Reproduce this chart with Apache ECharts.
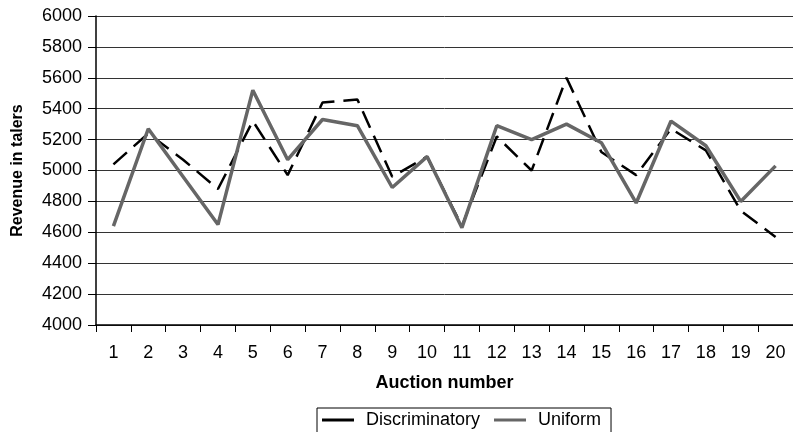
<!DOCTYPE html>
<html>
<head>
<meta charset="utf-8">
<script src="https://cdn.jsdelivr.net/npm/echarts@6/dist/echarts.min.js"></script>
<style>
html,body{margin:0;padding:0;background:#fff;}
#chart{width:793px;height:432px;}
</style>
</head>
<body>
<div id="chart"></div>
<script>
var categories = ['1','2','3','4','5','6','7','8','9','10','11','12','13','14','15','16','17','18','19','20'];
var discriminatory = [5040, 5240, 5070, 4880, 5320, 4970, 5440, 5460, 4960, 5090, 4640, 5220, 5000, 5600, 5120, 4970, 5270, 5130, 4740, 4570];
var uniform = [4640, 5270, 4960, 4650, 5520, 5070, 5330, 5290, 4890, 5090, 4630, 5290, 5200, 5300, 5180, 4790, 5320, 5160, 4800, 5030];
var yTicks = [4000, 6000, 200];

var chart = echarts.init(document.getElementById('chart'), null, {renderer:'canvas'});
var font = 'Liberation Sans, Arial, sans-serif';
chart.setOption({
  animation: false,
  textStyle: {fontFamily: font},
  grid: {left: 96, top: 16, right: 0, bottom: 107, containLabel: false},
  xAxis: {
    type: 'category',
    data: categories,
    boundaryGap: true,
    name: 'Auction number',
    nameLocation: 'middle',
    nameGap: 49,
    nameTextStyle: {fontFamily: font, fontSize: 18, fontWeight: 'bold', color: '#000'},
    axisLine: {lineStyle: {color: '#000', width: 1.5}},
    axisTick: {show: true, alignWithLabel: false, length: 7, lineStyle: {color: '#000'}},
    axisLabel: {fontFamily: font, fontSize: 18, color: '#000', margin: 19},
    splitLine: {show: false}
  },
  yAxis: {
    type: 'value',
    min: yTicks[0],
    max: yTicks[1],
    interval: yTicks[2],
    name: 'Revenue in talers',
    nameLocation: 'middle',
    nameGap: 70,
    nameTextStyle: {fontFamily: font, fontSize: 16, fontWeight: 'bold', color: '#000'},
    axisLine: {show: true, lineStyle: {color: '#000', width: 1.5}},
    axisTick: {show: true, length: 8, lineStyle: {color: '#000'}},
    axisLabel: {fontFamily: font, fontSize: 18, color: '#000', margin: 14, formatter: function (v) { return String(v); }},
    splitLine: {show: true, lineStyle: {color: '#333', width: 1}}
  },
  legend: {
    left: 317,
    top: 408,
    data: ['Discriminatory', 'Uniform'],
    borderColor: '#000',
    borderWidth: 1,
    padding: [3, 10, 8, 5],
    itemWidth: 32,
    itemHeight: 12,
    itemGap: 14,
    icon: 'path://M0,4 L32,4 L32,7 L0,7 Z',
    textStyle: {fontFamily: font, fontSize: 18, color: '#000', padding: [0, 0, 0, 7]}
  },
  series: [
    {
      name: 'Discriminatory',
      type: 'line',
      data: discriminatory,
      symbol: 'none',
      color: '#000',
      lineStyle: {color: '#000', width: 2.5, type: [18, 9]},
      itemStyle: {color: '#000'}
    },
    {
      name: 'Uniform',
      type: 'line',
      data: uniform,
      symbol: 'none',
      color: '#666',
      lineStyle: {color: '#666', width: 3.5},
      itemStyle: {color: '#666'}
    }
  ]
});
</script>
</body>
</html>
